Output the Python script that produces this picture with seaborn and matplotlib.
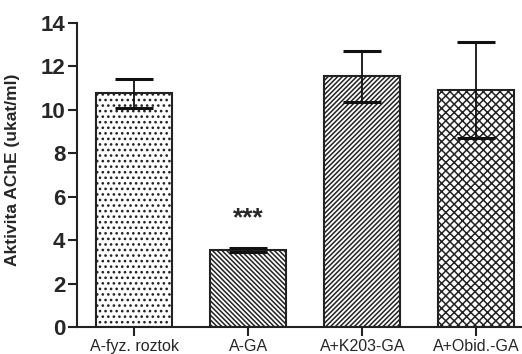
import numpy as np
import pandas as pd
import seaborn as sns
import matplotlib
matplotlib.use("Agg")
import matplotlib.pyplot as plt
from matplotlib.transforms import ScaledTranslation

#  Данные
groups = ["A-fyz. roztok", "A-GA", "A+K203-GA", "A+Obid.-GA"]
means = [10.76, 3.55, 11.55, 10.92]
errors = [0.67, 0.08, 1.17, 2.2]
hatches = ["...", "\\" * 7, "/" * 7, "xxxx"]

sns.set_theme(style="ticks")
plt.rcParams["font.family"] = ["Liberation Sans", "DejaVu Sans"]
plt.rcParams["hatch.linewidth"] = 1.1

df = pd.DataFrame({"group": groups, "mean": means})

fig = plt.figure(figsize=(5.22, 3.54), dpi=100)
ax = fig.add_axes([0.1475, 0.076, 0.8525, 0.859])

sns.barplot(data=df, x="group", y="mean", color="white", edgecolor="#222222",
            linewidth=1.5, width=0.667, ax=ax, saturation=1)
for bar, h in zip(ax.patches, hatches):
    bar.set_hatch(h)
    bar.set_facecolor("white")

ax.errorbar(range(len(groups)), means, yerr=errors, fmt="none", ecolor="#111111",
            elinewidth=1.3, capsize=14, capthick=2.2)

ax.text(1, 5.0, "***", ha="center", va="center", fontsize=19, fontweight="bold")

ax.set_xlim(-0.5, 3.4)
ax.set_ylim(0, 14)
ax.set_yticks(np.arange(0, 15, 2))
ax.set_xlabel("")
ax.set_ylabel("Aktivita AChE (ukat/ml)", fontsize=12.5, fontweight="bold")
ax.yaxis.set_label_coords(-0.128, 0.516)
for lab in ax.get_yticklabels():
    lab.set_fontweight("bold")
    lab.set_fontsize(16)
for i, lab in enumerate(ax.get_xticklabels()):
    lab.set_fontsize(11.5)
    if i == 2:
        lab.set_transform(lab.get_transform() + ScaledTranslation(0, -2 / 100, fig.dpi_scale_trans))
ax.tick_params(width=1.5, length=6.5, color="#222222")
ax.tick_params(axis="x", pad=2)
ax.tick_params(axis="y", pad=2)
for s in ["left", "bottom"]:
    ax.spines[s].set_linewidth(1.5)
    ax.spines[s].set_color("#222222")
sns.despine(ax=ax)

fig.savefig("out.png", dpi=100)
